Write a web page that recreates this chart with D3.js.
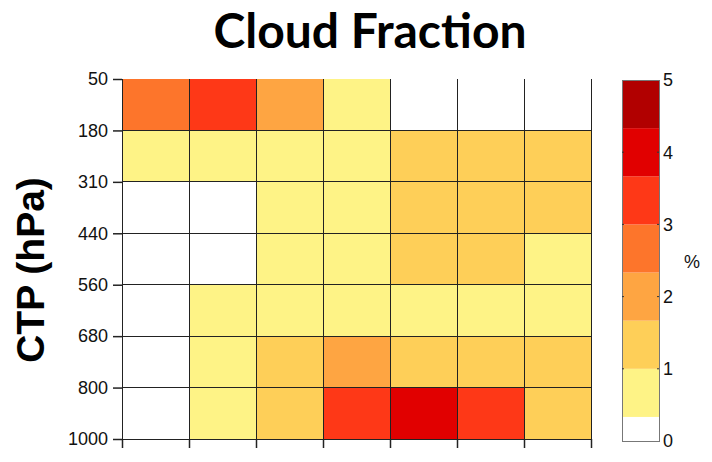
<!DOCTYPE html>
<html>
<head>
<meta charset="utf-8">
<script src="https://cdn.jsdelivr.net/npm/d3@7/dist/d3.min.js"></script>
<style>
  html, body { margin: 0; padding: 0; background: #fff; }
  svg { display: block; }
</style>
</head>
<body>
<svg id="chart" width="712" height="462"></svg>
<script>
// Cloud-top pressure bin edges (hPa), top of the atmosphere first
const pressureEdges = ["50", "180", "310", "440", "560", "680", "800", "1000"];
// Seven unlabelled optical-thickness columns
const columns = [0, 1, 2, 3, 4, 5, 6];

// Cloud fraction (%) per pressure bin (rows, top to bottom) and column
const row50_180    = [2.7, 3.3, 2.0, 0.7, 0.0, 0.0, 0.0];
const row180_310   = [0.7, 0.7, 0.8, 0.8, 1.3, 1.3, 1.3];
const row310_440   = [0.0, 0.0, 0.7, 0.8, 1.3, 1.3, 1.2];
const row440_560   = [0.0, 0.0, 0.7, 0.8, 1.3, 1.3, 0.8];
const row560_680   = [0.0, 0.6, 0.7, 0.8, 0.9, 0.9, 0.8];
const row680_800   = [0.0, 0.7, 1.3, 2.0, 1.4, 1.3, 1.3];
const row800_1000  = [0.0, 0.7, 1.4, 3.3, 4.0, 3.4, 1.3];
const rows = [row50_180, row180_310, row310_440, row440_560, row560_680, row680_800, row800_1000];

// Colour levels of the bar (%)
const levelBreaks = [1/3, 1, 5/3, 7/3, 3, 11/3, 13/3];
const levelColors = ["#ffffff", "#fef386", "#fecf58", "#fea542", "#fd752b", "#fe3817", "#e10000", "#b10000"];
const barTicks = [0, 1, 2, 3, 4, 5];

const svg = d3.select("#chart");

const plot = { left: 122, right: 591, top: 79, bottom: 439 };
const bar = { left: 622, right: 659, top: 80, bottom: 441 };

const x = d3.scaleLinear().domain([0, columns.length]).range([plot.left, plot.right]);
const y = d3.scalePoint().domain(pressureEdges).range([plot.top, plot.bottom]);
const color = d3.scaleThreshold().domain(levelBreaks).range(levelColors);

// Cells
const cells = [];
rows.forEach((vals, r) => vals.forEach((v, c) => cells.push({ r, c, v })));

svg.append("g").selectAll("rect").data(cells).join("rect")
  .attr("x", d => x(d.c))
  .attr("y", d => y(pressureEdges[d.r]))
  .attr("width", d => x(d.c + 1) - x(d.c))
  .attr("height", d => y(pressureEdges[d.r + 1]) - y(pressureEdges[d.r]))
  .attr("fill", d => color(d.v));

// Grid lines
const grid = svg.append("g").attr("stroke", "#222").attr("stroke-width", 1).attr("shape-rendering", "crispEdges");
grid.selectAll("line.v").data(d3.range(1, columns.length + 1)).join("line")
  .attr("x1", d => x(d)).attr("x2", d => x(d))
  .attr("y1", plot.top).attr("y2", plot.bottom);
grid.selectAll("line.h").data(pressureEdges.slice(1, -1)).join("line")
  .attr("x1", plot.left).attr("x2", plot.right)
  .attr("y1", d => y(d)).attr("y2", d => y(d));

// Left axis
const yAxis = d3.axisLeft(y).tickSize(9).tickPadding(5);
const gy = svg.append("g").attr("transform", `translate(${plot.left},0)`).call(yAxis);
gy.select(".domain").attr("stroke", "#222").attr("shape-rendering", "crispEdges");
gy.selectAll(".tick line").attr("stroke", "#222").attr("stroke-width", 1.5);
gy.selectAll(".tick text")
  .attr("font-family", "'Liberation Sans', Arial, sans-serif")
  .attr("font-size", 18).attr("fill", "#111");

// Bottom axis (unlabelled ticks)
const xAxis = d3.axisBottom(x).tickValues(d3.range(0, columns.length + 1)).tickSize(9).tickFormat("");
const gx = svg.append("g").attr("transform", `translate(0,${plot.bottom})`).call(xAxis);
gx.select(".domain").attr("stroke", "#222").attr("shape-rendering", "crispEdges");
gx.selectAll(".tick line").attr("stroke", "#222").attr("stroke-width", 1.5);

// Title
svg.append("text")
  .attr("x", 370).attr("y", 48)
  .attr("text-anchor", "middle")
  .attr("font-family", "Lato, 'Open Sans', sans-serif")
  .attr("font-weight", 700).attr("font-size", 48)
  .attr("fill", "#000")
  .text("Cloud Fraction");

// Vertical axis title
svg.append("text")
  .attr("transform", "translate(44,270) rotate(-90)")
  .attr("text-anchor", "middle")
  .attr("font-family", "'Liberation Sans', Arial, sans-serif")
  .attr("font-weight", 700).attr("font-size", 39)
  .attr("fill", "#000")
  .text("CTP (hPa)");

// Colour bar
const cy = d3.scaleLinear().domain([0, 5]).range([bar.bottom, bar.top]);
const bandEdges = [0, ...levelBreaks, 5];
svg.append("g").selectAll("rect").data(levelColors).join("rect")
  .attr("x", bar.left)
  .attr("y", (d, i) => cy(bandEdges[i + 1]))
  .attr("width", bar.right - bar.left)
  .attr("height", (d, i) => cy(bandEdges[i]) - cy(bandEdges[i + 1]))
  .attr("fill", d => d);
svg.append("rect")
  .attr("x", bar.left).attr("y", bar.top)
  .attr("width", bar.right - bar.left).attr("height", bar.bottom - bar.top)
  .attr("fill", "none").attr("stroke", "#777").attr("shape-rendering", "crispEdges");

const barTickG = svg.append("g").attr("stroke", "#333").attr("stroke-width", 1);
barTickG.selectAll("line.l").data(barTicks.slice(1, -1)).join("line")
  .attr("x1", bar.left).attr("x2", bar.left + 2)
  .attr("y1", d => cy(d)).attr("y2", d => cy(d));
barTickG.selectAll("line.r").data(barTicks.slice(1, -1)).join("line")
  .attr("x1", bar.right - 2).attr("x2", bar.right)
  .attr("y1", d => cy(d)).attr("y2", d => cy(d));

svg.append("g").selectAll("text").data(barTicks).join("text")
  .attr("x", bar.right + 4)
  .attr("y", d => cy(d))
  .attr("dy", "0.36em")
  .attr("font-family", "'Liberation Sans', Arial, sans-serif")
  .attr("font-size", 18).attr("fill", "#111")
  .text(d => d);

svg.append("text")
  .attr("x", 692).attr("y", 262).attr("dy", "0.36em")
  .attr("text-anchor", "middle")
  .attr("font-family", "'Liberation Sans', Arial, sans-serif")
  .attr("font-size", 18).attr("fill", "#111")
  .text("%");
</script>
</body>
</html>
